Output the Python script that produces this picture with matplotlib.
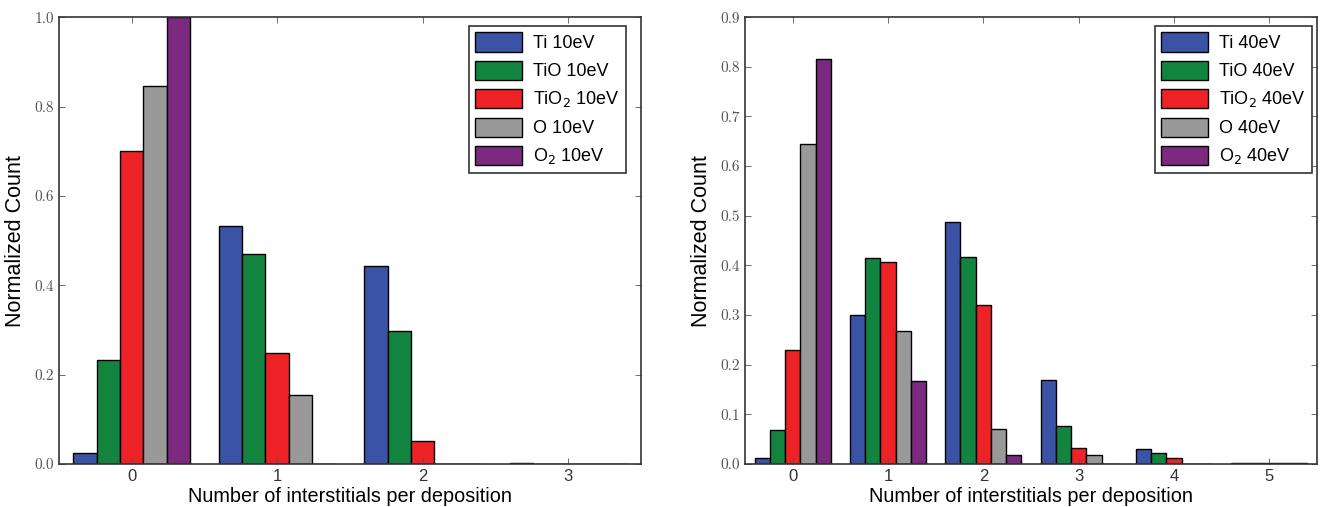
import matplotlib.pyplot as plt
import numpy as np

# species order: Ti, TiO, TiO2, O, O2
species = ['Ti', 'TiO', r'TiO$_2$', 'O', r'O$_2$']
colors = ['#3a53a4', '#13843f', '#ec2227', '#999999', '#7b2a7f']

# 10 eV, interstitials 0..3
n_10 = [0, 1, 2, 3]
ti_10 = [0.025, 0.532, 0.442, 0.003]
tio_10 = [0.232, 0.471, 0.297, 0.0]
tio2_10 = [0.700, 0.249, 0.051, 0.0]
o_10 = [0.845, 0.155, 0.0, 0.0]
o2_10 = [1.0, 0.0, 0.0, 0.0]

# 40 eV, interstitials 0..5
n_40 = [0, 1, 2, 3, 4, 5]
ti_40 = [0.011, 0.301, 0.487, 0.170, 0.031, 0.002]
tio_40 = [0.068, 0.415, 0.417, 0.077, 0.021, 0.002]
tio2_40 = [0.229, 0.407, 0.320, 0.032, 0.011, 0.001]
o_40 = [0.645, 0.267, 0.070, 0.017, 0.0, 0.002]
o2_40 = [0.815, 0.168, 0.018, 0.0, 0.0, 0.001]

width = 0.16

fig = plt.figure(figsize=(13.24, 5.07), dpi=100)
ax1 = fig.add_axes([0.0445, 0.085, 0.4395, 0.881])
ax2 = fig.add_axes([0.5627, 0.085, 0.432, 0.881])


def draw(ax, n, series, energy, ymax, yticks, anchor):
    x = np.array(n, dtype=float)
    for i, vals in enumerate(series):
        ax.bar(x - 0.4 + i * width, vals, width, align='edge', color=colors[i],
               edgecolor='black', linewidth=1.0,
               label=species[i] + ' ' + energy)
    ax.set_xlim(-0.5, len(n) - 0.5)
    ax.set_ylim(0, ymax)
    ax.set_xticks(n)
    ax.set_yticks(yticks)
    ax.set_yticklabels(['%.1f' % v for v in yticks], fontfamily='cmr10',
                       fontsize=11, color='#555555')
    ax.set_xticklabels([str(v) for v in n], fontfamily='Liberation Sans',
                       fontsize=12, color='#333333')
    ax.tick_params(direction='in', top=True, right=True, length=4,
                   width=0.6, color='#555555')
    ax.set_xlabel('Number of interstitials per deposition',
                  fontfamily='Liberation Sans', fontsize=14.3, labelpad=2)
    ax.set_ylabel('Normalized Count', fontfamily='Liberation Sans',
                  fontsize=15.5, labelpad=6)
    for s in ax.spines.values():
        s.set_linewidth(1.2)
        s.set_color('#333333')
    leg = ax.legend(loc='upper right', bbox_to_anchor=anchor,
                    borderaxespad=0, fancybox=False, framealpha=1,
                    edgecolor='#333333', handlelength=2.6, handleheight=1.3,
                    handletextpad=0.6, borderpad=0.35, labelspacing=0.45,
                    prop={'family': 'Liberation Sans', 'size': 13})
    leg.get_frame().set_linewidth(1.2)


draw(ax1, n_10, [ti_10, tio_10, tio2_10, o_10, o2_10], '10eV', 1.0,
     [0.0, 0.2, 0.4, 0.6, 0.8, 1.0], (0.974, 0.980))
draw(ax2, n_40, [ti_40, tio_40, tio2_40, o_40, o2_40], '40eV', 0.9,
     [0.0, 0.1, 0.2, 0.3, 0.4, 0.5, 0.6, 0.7, 0.8, 0.9], (0.991, 0.980))

fig.savefig('out.png', dpi=100)
